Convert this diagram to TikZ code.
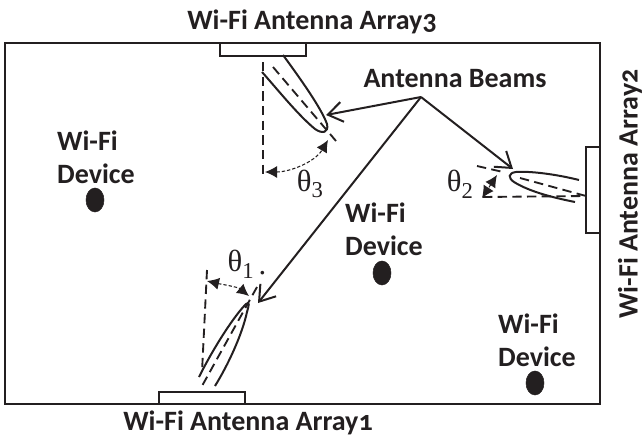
\documentclass[tikz,border=0pt]{standalone}
\usepackage{fontspec}
\setmainfont[Numbers=OldStyle]{Carlito}
\newfontfamily\thetafont{Liberation Serif}
\usetikzlibrary{arrows.meta, shapes.geometric}
\definecolor{ink}{HTML}{231F20}
\newcommand{\anglesub}[1]{\raisebox{-5pt}{\fontsize{17}{17}\selectfont #1}}
\tikzset{
    label/.style={font=\bfseries\fontsize{21}{25}\selectfont, align=left, inner sep=0pt, text=ink},
    anglelabel/.style={font=\thetafont\fontsize{23}{24}\selectfont, inner sep=0pt, text=ink},
    array/.style={draw=ink, line width=1.5pt, fill=white},
    device/.style={draw=ink, fill=ink, ellipse, minimum width=13.5pt, minimum height=18pt, inner sep=0pt},
    lobe/.style={draw=ink, line width=1.5pt},
    axis/.style={draw=ink, line width=1.4pt, dash pattern=on 7pt off 4pt},
    sweep/.style={draw=ink, line width=0.8pt, dash pattern=on 2.5pt off 1.5pt, {Latex[length=9pt,width=9pt]}-{Latex[length=9pt,width=9pt]}},
    beam/.style={draw=ink, line width=1.5pt, -{Straight Barb[length=11pt,width=15pt,line width=1.5pt]}},
}
\begin{document}
\begin{tikzpicture}[x=0.75pt,y=-0.75pt]
    \useasboundingbox (0,0) rectangle (644,436);
    \draw[draw=ink, line width=1.5pt] (5,43) rectangle (600,404);

    \draw[array] (220,43) rectangle (306,56);
    \draw[array] (586,147) rectangle (600,233);
    \draw[array] (159,392) rectangle (245,404);

    \node[label] at (312,22) {Wi-Fi Antenna Array3};
    \node[label] at (248,423) {Wi-Fi Antenna Array1};
    \node[label, rotate=90] at (630,194) {Wi-Fi Antenna Array2};
    \node[label] (beams) at (455,79) {Antenna Beams};

    \node[label] at (96,157) {Wi-Fi\\Device};
    \node[device] (dev1) at (95,200) {};
    \node[label] at (384,229) {Wi-Fi\\Device};
    \node[device] (dev2) at (382,273) {};
    \node[label] at (537,340) {Wi-Fi\\Device};
    \node[device] (dev3) at (535,383) {};

    % array 3
    \draw[axis] (263,62) -- (263,178);
    \draw[axis] (273,67) -- (336,141);
    \draw[lobe] (283,55) .. controls (305,85) and (322,110) .. (327,124) .. controls (329,133) and (322,134) .. (315,129) .. controls (298,115) and (278,90) .. (262,72);
    \coordinate (s3a) at (265,172);
    \coordinate (s3b) at (328,140);
    \draw[sweep] (s3a) .. controls (290,172) and (315,162) .. (s3b);
    \node[anglelabel] (th3) at (310,184) {θ\anglesub{3}};

    % array 2
    \draw[axis] (477,166) -- (503,172);
    \draw[axis] (520,178) -- (586,196);
    \draw[axis] (483,197) -- (586,196);
    \draw[lobe] (579,180) .. controls (555,174) and (530,171) .. (516,172) .. controls (508,173) and (508,178) .. (514,182) .. controls (530,192) and (555,198) .. (575,202);
    \coordinate (s2a) at (497,175);
    \coordinate (s2b) at (482,198);
    \draw[sweep] (s2a) -- (s2b);
    \node[anglelabel] (th2) at (460,184) {θ\anglesub{2}};

    % array 1
    \draw[axis] (207,270) -- (202,372);
    \draw[axis] (257,287) -- (202,386);
    \draw[lobe] (199,377) .. controls (215,345) and (235,315) .. (246,304) .. controls (250,301) and (249,305) .. (247,312) .. controls (242,335) and (228,365) .. (215,386);
    \coordinate (s1a) at (207,281);
    \coordinate (s1b) at (249,296);
    \draw[sweep] (s1a) .. controls (220,284) and (238,287) .. (s1b);
    \node[anglelabel] (th1) at (247,264) {θ\anglesub{1}\,\raisebox{-2pt}{.}};

    \coordinate (origin) at (421,97);
    \coordinate (tip3) at (326,115);
    \coordinate (tip2) at (513,169);
    \coordinate (tip1) at (258,303);
    \draw[beam] (origin) -- (tip3);
    \draw[beam] (origin) -- (tip2);
    \draw[beam] (origin) -- (tip1);
\end{tikzpicture}
\end{document}
